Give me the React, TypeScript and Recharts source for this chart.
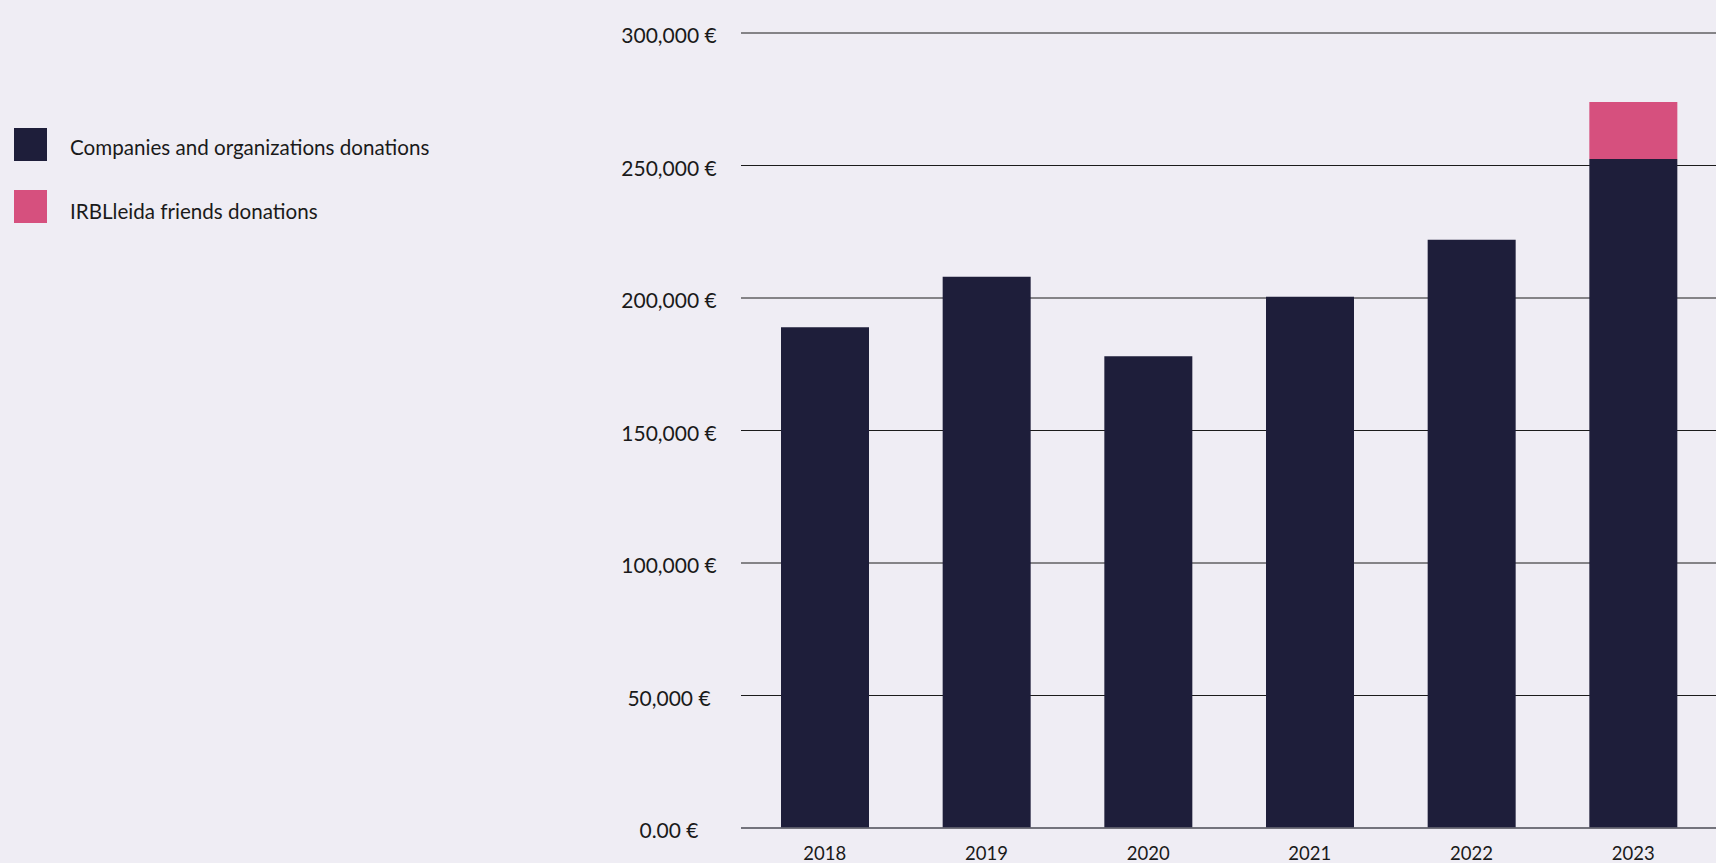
import React from 'react';
import { BarChart, Bar, XAxis, YAxis, CartesianGrid } from 'recharts';

const years = ['2018', '2019', '2020', '2021', '2022', '2023'];
const companiesDonations = [189000, 208000, 178000, 200500, 222000, 252500];
const friendsDonations = [0, 0, 0, 0, 0, 21500];
const yTicks = [0, 50000, 100000, 150000, 200000, 250000, 300000];
const yTickLabels = ['0.00 €', '50,000 €', '100,000 €', '150,000 €', '200,000 €', '250,000 €', '300,000 €'];
const seriesNames = ['Companies and organizations donations', 'IRBLleida friends donations'];
const seriesColors = ['#1e1e3a', '#d6507e'];

const data = years.map((y, i) => ({
  year: y,
  companies: companiesDonations[i],
  friends: friendsDonations[i],
}));

const FONT = 'Lato, "Noto Sans", sans-serif';
const TEXT = '#1a1a1a';

const YTick = (props: any) => {
  const { x, y, payload } = props;
  const idx = yTicks.indexOf(payload.value);
  return (
    <text x={x - 72} y={y} dy={10} textAnchor="middle" fontSize={21} fill={TEXT} fontFamily={FONT}>
      {yTickLabels[idx]}
    </text>
  );
};

const XTick = (props: any) => {
  const { x, y, payload } = props;
  return (
    <text x={x} y={y} dy={32} textAnchor="middle" fontSize={18.5} fill={TEXT} fontFamily={FONT}>
      {payload.value}
    </text>
  );
};

export default function App() {
  return (
    <div style={{ position: 'fixed', left: 0, top: 0, width: 1716, height: 863, background: '#efedf4', overflow: 'hidden' }}>
      <svg width={480} height={260} style={{ position: 'absolute', left: 0, top: 0 }}>
        {seriesNames.map((name, i) => (
          <g key={name}>
            <rect x={14} y={128 + i * 62} width={33} height={33} fill={seriesColors[i]} />
            <text x={70} y={155 + i * 64} fontSize={20.6} fill={TEXT} fontFamily={FONT}>
              {name}
            </text>
          </g>
        ))}
      </svg>
      <div style={{ position: 'absolute', left: 0, top: 0 }}>
        <BarChart width={1716} height={863} data={data} margin={{ top: 33, right: 0, bottom: 0, left: 0 }} barSize={88}>
          <CartesianGrid vertical={false} stroke="#1b1b1b" strokeWidth={1} />
          <XAxis
            dataKey="year"
            height={35}
            padding={{ left: 3, right: 2 }}
            axisLine={{ stroke: '#6e6e78', strokeWidth: 1.5 }}
            tickLine={false}
            tickSize={0}
            tickMargin={0}
            tick={<XTick />}
          />
          <YAxis
            width={741}
            domain={[0, 300000]}
            ticks={yTicks}
            interval={0}
            axisLine={false}
            tickLine={false}
            tickSize={0}
            tickMargin={0}
            tick={<YTick />}
          />
          <Bar dataKey="companies" stackId="a" fill={seriesColors[0]} isAnimationActive={false} />
          <Bar dataKey="friends" stackId="a" fill={seriesColors[1]} isAnimationActive={false} />
        </BarChart>
      </div>
    </div>
  );
}
